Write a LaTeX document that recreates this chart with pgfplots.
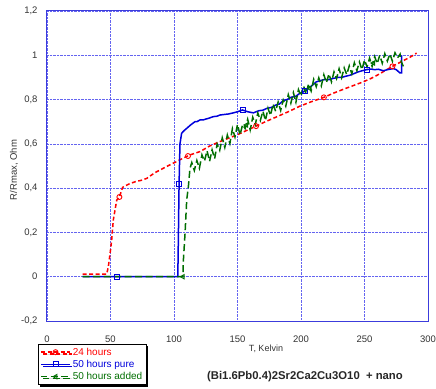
\documentclass[border=0pt]{standalone}
\usepackage{fontspec}
\setmainfont{Liberation Sans}
\usepackage{pgfplots}
\pgfplotsset{compat=1.18}
\usetikzlibrary{shadows}
\definecolor{gridblue}{RGB}{100,100,240}
\definecolor{axblue}{RGB}{60,60,220}
\definecolor{cred}{RGB}{255,0,0}
\definecolor{cblue}{RGB}{0,0,220}
\definecolor{cgreen}{RGB}{0,110,0}
\begin{document}
\begin{tikzpicture}[x=1pt,y=1pt]
\begin{axis}[
 scale only axis, width=381pt, height=310pt,
 at={(0,0)}, anchor=south west,
 xmin=0, xmax=300, ymin=-0.2, ymax=1.2,
 xtick={0,50,100,150,200,250,300},
 ytick={-0.2,0,0.2,0.4,0.6,0.8,1,1.2},
 grid=major,
 major grid style={gridblue, densely dotted, line width=0.7pt},
 axis line style={axblue, line width=1pt},
 major tick length=0pt,
 /pgf/number format/assume math mode=true,
 /pgf/number format/use comma,
 ticklabel style={font=\fontsize{9.5}{11}\selectfont, text=black!80},
 xticklabel style={yshift=-11pt},
 yticklabel style={xshift=-6pt},
 legend style={at={(axis description cs:-0.0236,-0.074)}, anchor=north west,
   draw=black, line width=0.7pt, fill=white,
   drop shadow={shadow xshift=2pt, shadow yshift=-2pt, fill=black, opacity=1},
   font=\fontsize{10}{12}\selectfont, row sep=-0.5pt, inner xsep=2pt, inner ysep=1.5pt,
   nodes={inner xsep=2pt}},
 legend cell align=left,
 legend image code/.code={%
   \draw[#1, mark=none] (0pt,0pt) -- (29pt,0pt);
   \draw[#1] plot[only marks] coordinates {(14.5pt,0pt)};},
]
\addlegendimage{cred, line width=1.4pt, dash pattern=on 4pt off 2.5pt, mark=o, mark size=2.5pt, mark options={solid, line width=0.9pt}}
\addlegendentry{\textcolor{cred}{24 hours}}
\addlegendimage{cblue, line width=1.4pt, mark=square, mark size=2.5pt, mark options={line width=0.9pt}}
\addlegendentry{\textcolor{cblue}{50 hours pure}}
\addlegendimage{cgreen, line width=1.4pt, dash pattern=on 7pt off 3.5pt, dash phase=1pt, mark=triangle, mark size=2.5pt, mark options={solid, rotate=90, line width=0.9pt}}
\addlegendentry{\textcolor{cgreen}{50 hours added}}

% 24 hours
\addplot[cred, line width=1.5pt, dash pattern=on 4pt off 2.5pt, forget plot] coordinates {
(28,0.012) (47,0.012) (48.3,0.045) (50,0.12) (51,0.17) (52.2,0.256) (54.9,0.346) (57,0.36) (59.6,0.404) (65,0.42) (70,0.43) (74,0.435) (78.5,0.444) (85,0.47) (90,0.485) (95,0.50) (102,0.52) (107,0.535) (112.6,0.55) (120.5,0.565) (128,0.59) (136,0.61) (149.4,0.64) (157,0.66) (164.6,0.68) (172,0.70) (180,0.72) (190,0.745) (199,0.77) (208,0.79) (218,0.81) (226,0.83) (235,0.85) (242,0.865) (249,0.88) (255,0.895) (260,0.91) (266,0.93) (272,0.95) (277,0.965) (282,0.98) (287,0.995) (291,1.01)
};
\addplot[cred, only marks, mark=o, mark size=2.5pt, line width=0.9pt, forget plot] coordinates {
(57,0.36) (111,0.545) (164.6,0.68) (218,0.81) (272,0.95)
};

% 50 hours pure
\addplot[cblue, line width=1.5pt, forget plot] coordinates {
(28,0) (103,0) (103.5,0.2) (104,0.42) (104.7,0.60) (106,0.648) (108,0.66) (110,0.67) (113,0.685) (116.5,0.70) (118,0.70) (120.5,0.708) (123,0.708) (125,0.712) (127,0.715) (131,0.723) (134,0.725) (136,0.73) (140,0.733) (143,0.735) (146.7,0.74) (150,0.745) (154,0.753) (158,0.745) (162.5,0.74) (167,0.75) (170,0.752) (173,0.76) (177,0.765) (180,0.775) (183,0.78) (186,0.795) (189,0.80) (192,0.81) (196,0.815) (199,0.828) (202,0.835) (205,0.85) (208,0.86) (212,0.88) (215,0.885) (218,0.89) (222,0.89) (225,0.895) (229,0.90) (232,0.90) (235,0.905) (238.6,0.91) (242,0.918) (245,0.925) (248,0.93) (251.7,0.935) (255,0.938) (258,0.935) (261,0.937) (264.8,0.93) (268,0.935) (272.7,0.94) (275,0.935) (278,0.92) (279.3,0.92) (279.3,1.0)
};
\addplot[cblue, only marks, mark=square, mark size=2.5pt, line width=0.9pt, forget plot] coordinates {
(55,0) (104,0.42) (154,0.753) (203,0.84) (252,0.935)
};

% 50 hours added
\addplot[cgreen, line width=1.5pt, dash pattern=on 7pt off 3.5pt, forget plot] coordinates {
(28,0) (107,0) (107.4,0.075) (108.7,0.196) (110,0.346) (111.3,0.406) (112.6,0.49)
(114,0.515) (116,0.48) (118,0.525) (120,0.49) (122,0.55) (124,0.522) (126,0.569) (128,0.521) (130,0.573) (132,0.533) (134,0.599) (136,0.571) (138,0.627) (140,0.584) (142,0.64) (144,0.602) (146,0.669) (148,0.631) (150,0.688) (152,0.64) (154,0.687) (156,0.669) (158,0.711) (160,0.663) (162,0.72) (164,0.687) (166,0.739) (168,0.706) (170,0.748) (172,0.705) (174,0.761) (176,0.728) (178,0.78) (180,0.747) (182,0.789) (184,0.751) (186,0.798) (188,0.77) (190,0.822) (192,0.784) (194,0.831) (196,0.788) (198,0.845) (200,0.816) (202,0.863) (204,0.825) (206,0.872) (208,0.839) (210,0.891) (212,0.858) (214,0.898) (216,0.862) (218,0.912) (220,0.876) (222,0.916) (224,0.88) (226,0.925) (228,0.895) (230,0.939) (232,0.899) (234,0.943) (236,0.913) (238,0.952) (240,0.917) (242,0.966) (244,0.931) (246,0.97) (248,0.935) (250,0.979) (252,0.948) (254,0.987) (256,0.95) (258,0.994) (260,0.962) (262,1.0) (264,0.964) (266,1.007) (268,0.974) (270,1.006) (272,0.973) (274,1.011) (276,0.988) (278,1.005) (279,0.97) (280.6,0.95)
};
\addplot[cgreen, only marks, mark=triangle, mark size=2.5pt, line width=0.9pt, mark options={rotate=90}, forget plot] coordinates {
(107,0) (157,0.685) (207,0.85) (257,0.965)
};
\end{axis}
\node[font=\fontsize{9}{10}\selectfont, text=black!80] at (219,-28) {T, Kelvin};
\node[font=\bfseries\fontsize{11.3}{13}\selectfont, text=black!85] at (258,-56) {(Bi1.6Pb0.4)2Sr2Ca2Cu3O10\ \ + nano};
\node[rotate=90, font=\fontsize{9.5}{11}\selectfont, text=black!80] at (-33,151) {R/Rmax, Ohm};
\pgfresetboundingbox
\path (-47,-67) rectangle (389,321);
\end{tikzpicture}
\end{document}
